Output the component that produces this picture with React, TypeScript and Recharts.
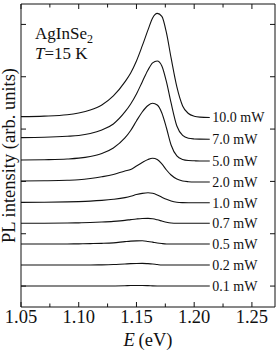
import { LineChart, Line, XAxis, YAxis, Customized } from 'recharts';

const FONT = '"Liberation Serif", "Times New Roman", serif';
const INK = '#111';

// photon energy (eV), shared by all spectra
const energies = [
  1.05, 1.07, 1.09, 1.1, 1.11, 1.12, 1.13, 1.14, 1.145, 1.15, 1.155, 1.16,
  1.164, 1.168, 1.172, 1.176, 1.18, 1.185, 1.19, 1.195, 1.2, 1.205, 1.2135,
];

// PL spectra, vertically offset per excitation power
const p10 = [32.37, 32.47, 32.73, 33.08, 33.65, 34.61, 36.33, 39.01, 40.73, 43.02, 45.89, 48.95, 51.24, 52.1, 51.53, 48.37, 43.59, 38.05, 34.42, 32.98, 32.45, 32.28, 32.22];
const p7 = [28.36, 28.43, 28.62, 28.78, 29.16, 29.83, 30.98, 33.27, 34.8, 36.71, 39.01, 41.3, 42.64, 43.02, 42.07, 39.01, 34.99, 30.59, 28.78, 28.24, 28.11, 28.07, 28.05];
const p5 = [24.09, 24.15, 24.28, 24.44, 24.76, 25.33, 26.39, 28.3, 29.73, 31.55, 33.27, 34.51, 34.93, 34.61, 33.08, 30.21, 26.96, 24.86, 24.19, 23.99, 23.94, 23.9, 23.9];
const p2 = [20.08, 20.12, 20.21, 20.31, 20.54, 20.88, 21.32, 21.99, 22.28, 22.94, 23.61, 24.19, 24.42, 24.19, 23.33, 22.18, 21.22, 20.46, 20.08, 19.94, 19.89, 19.89, 19.89];
const p1 = [16.0, 16.02, 16.08, 16.14, 16.23, 16.37, 16.58, 16.9, 17.15, 17.48, 17.72, 17.84, 17.72, 17.4, 16.98, 16.58, 16.25, 16.02, 15.95, 15.93, 15.93, 15.93, 15.93];
const p07 = [11.99, 12.01, 12.05, 12.08, 12.14, 12.24, 12.37, 12.56, 12.7, 12.83, 12.92, 12.94, 12.85, 12.66, 12.43, 12.2, 12.05, 11.99, 11.99, 11.99, 11.99, 11.99, 11.99];
const p05 = [8.03, 8.03, 8.05, 8.07, 8.11, 8.16, 8.26, 8.49, 8.59, 8.64, 8.66, 8.53, 8.39, 8.24, 8.13, 8.05, 8.03, 8.03, 8.03, 8.03, 8.03, 8.03, 8.03];
const p02 = [4.02, 4.02, 4.02, 4.02, 4.03, 4.05, 4.11, 4.23, 4.28, 4.32, 4.34, 4.28, 4.21, 4.11, 4.03, 4.02, 4.02, 4.02, 4.02, 4.02, 4.02, 4.02, 4.02];
const p01 = [0, 0, 0, 0, 0, 0, 0.02, 0.06, 0.1, 0.11, 0.11, 0.08, 0.04, 0.01, 0, 0, 0, 0, 0, 0, 0, 0, 0];

const seriesValues = [p10, p7, p5, p2, p1, p07, p05, p02, p01];
const powerLabels = ['10.0 mW', '7.0 mW', '5.0 mW', '2.0 mW', '1.0 mW', '0.7 mW', '0.5 mW', '0.2 mW', '0.1 mW'];

const xTicks = [1.05, 1.075, 1.1, 1.125, 1.15, 1.175, 1.2, 1.225, 1.25];
const yTicks = [0, 10, 20, 30, 40, 50];

const chartData = energies.map((E, i) => {
  const row: Record<string, number> = { E };
  seriesValues.forEach((s, k) => {
    row['s' + k] = s[i];
  });
  return row;
});

const isMajor = (v: number) => Math.round(v * 1000) % 50 === 0;

function BottomTick({ x, y, payload }: any) {
  const major = isMajor(payload.value);
  return (
    <g>
      <line x1={x} x2={x} y1={y} y2={y - (major ? 5 : 3.5)} stroke={INK} />
      {major && (
        <text x={x} y={y + 16} textAnchor="middle" fontSize={18.5} fontFamily={FONT} fill={INK}>
          {payload.value.toFixed(2)}
        </text>
      )}
    </g>
  );
}

function TopTick({ x, y, payload }: any) {
  const major = isMajor(payload.value);
  return <line x1={x} x2={x} y1={y} y2={y + (major ? 5 : 3.5)} stroke={INK} />;
}

function LeftTick({ x, y }: any) {
  return <line x1={x} x2={x + 5} y1={y} y2={y} stroke={INK} />;
}

function RightTick({ x, y }: any) {
  return <line x1={x} x2={x - 5} y1={y} y2={y} stroke={INK} />;
}

const endLabel = (text: string) => (props: any) => {
  if (props.index !== energies.length - 1) return <g />;
  return (
    <text x={props.x + 2.5} y={props.y + 5} fontSize={14} fontFamily={FONT} fill={INK}>
      {text}
    </text>
  );
};

function Annotation() {
  return (
    <g fontFamily={FONT} fill={INK}>
      <text x={35} y={38.5} fontSize={17} fontFamily={FONT}>
        AgInSe
        <tspan fontSize={12} dy={4.5}>2</tspan>
      </text>
      <text x={35} y={58.5} fontSize={17} fontFamily={FONT}>
        <tspan fontStyle="italic">T</tspan>=15 K
      </text>
    </g>
  );
}

export default function App() {
  return (
    <div style={{ position: 'absolute', left: 0, top: 0, width: 279, height: 358, background: '#fff' }}>
      <LineChart width={279} height={358} data={chartData} margin={{ top: 3, right: 3, bottom: 50, left: 20 }}>
        <XAxis
          xAxisId="b"
          dataKey="E"
          type="number"
          domain={[1.05, 1.27]}
          ticks={xTicks}
          height={1}
          tickSize={0}
          tickMargin={0}
          tickLine={false}
          tick={<BottomTick />}
          axisLine={{ stroke: INK }}
          interval={0}
          allowDataOverflow
          label={{
            content: (p: any) => {
              const vb = p.viewBox || { x: 21, y: 307, width: 254 };
              return (
                <text x={vb.x + vb.width / 2} y={vb.y + 39} textAnchor="middle" fontSize={18.5} fontFamily={FONT} fill={INK}>
                  <tspan fontStyle="italic">E</tspan>
                  {'\u2009(eV)'}
                </text>
              );
            },
          }}
        />
        <XAxis
          xAxisId="t"
          orientation="top"
          dataKey="E"
          type="number"
          domain={[1.05, 1.27]}
          ticks={xTicks}
          height={1}
          tickSize={0}
          tickMargin={0}
          tickLine={false}
          tick={<TopTick />}
          axisLine={{ stroke: INK }}
          interval={0}
          allowDataOverflow
        />
        <YAxis
          yAxisId="l"
          type="number"
          domain={[-4, 53.9]}
          ticks={yTicks}
          width={1}
          tickSize={0}
          tickMargin={0}
          tickLine={false}
          tick={<LeftTick />}
          axisLine={{ stroke: INK }}
          interval={0}
          allowDataOverflow
          label={{
            content: (p: any) => {
              const vb = p.viewBox || { x: 20, y: 4, width: 1, height: 303 };
              const cx = vb.x + vb.width - 6;
              const cy = vb.y + vb.height / 2;
              return (
                <text
                  x={cx}
                  y={cy}
                  transform={`rotate(-90 ${cx} ${cy})`}
                  textAnchor="middle"
                  fontSize={18.5}
                  fontFamily={FONT}
                  fill={INK}
                >
                  PL intensity (arb. units)
                </text>
              );
            },
          }}
        />
        <YAxis
          yAxisId="r"
          orientation="right"
          type="number"
          domain={[-4, 53.9]}
          ticks={yTicks}
          width={1}
          tickSize={0}
          tickMargin={0}
          tickLine={false}
          tick={<RightTick />}
          axisLine={{ stroke: INK }}
          interval={0}
          allowDataOverflow
        />
        {seriesValues.map((_, k) => (
          <Line
            key={k}
            xAxisId="b"
            yAxisId="l"
            dataKey={'s' + k}
            type="monotone"
            stroke={INK}
            strokeWidth={1.1}
            dot={false}
            isAnimationActive={false}
            label={endLabel(powerLabels[k])}
          />
        ))}
        <Customized component={<Annotation />} />
      </LineChart>
    </div>
  );
}
